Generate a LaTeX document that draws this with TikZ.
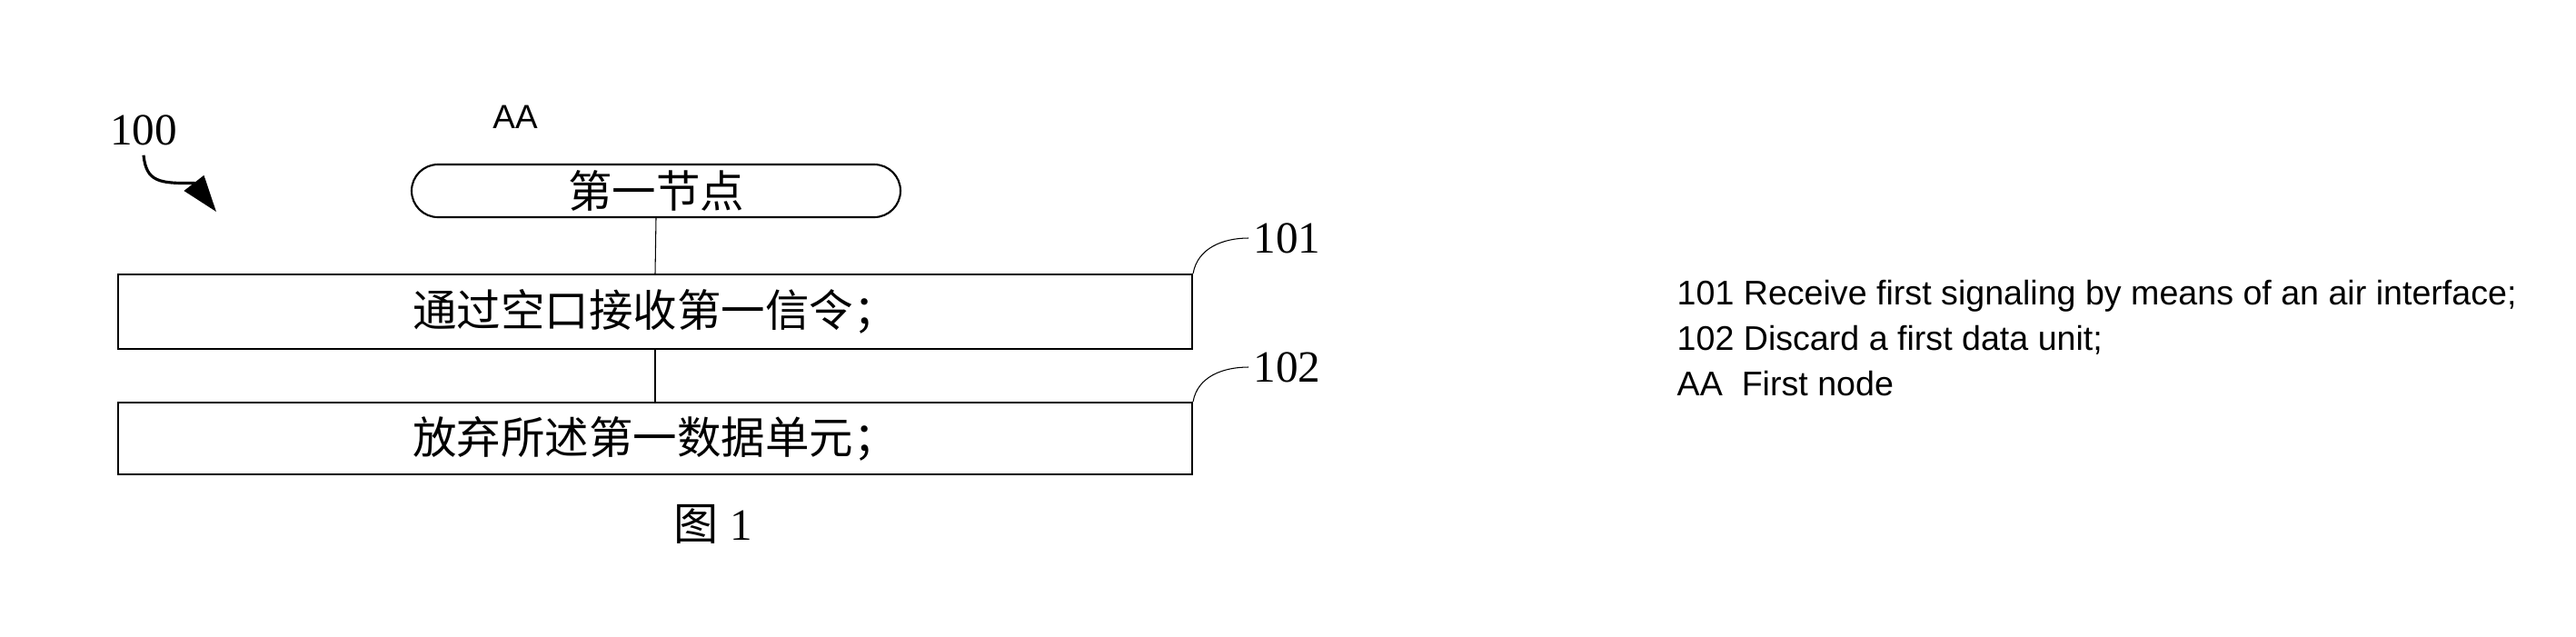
\documentclass[tikz,border=0pt]{standalone}
\usepackage{fontspec}
\setmainfont{Liberation Serif}
\newfontfamily\cjk{Noto Sans CJK SC}
\newfontfamily\arial{Liberation Sans}
\usepackage{tikz}
\usetikzlibrary{arrows.meta, positioning, calc}

\begin{document}
\begin{tikzpicture}[
    termbox/.style={draw, line width=0.6pt, rounded corners=0.29cm, minimum width=5.38cm, minimum height=0.58cm, inner sep=0pt, font=\cjk\fontsize{13.8}{16}\selectfont},
    stepbox/.style={draw, line width=0.6pt, minimum width=11.82cm, inner sep=0pt, font=\cjk\fontsize{13.8}{16}\selectfont},
    reflabel/.style={inner sep=0.05cm, font=\fontsize{14}{16}\selectfont},
    leader/.style={line width=0.3pt},
    link/.style={line width=0.3pt},
    desc/.style={anchor=base west, inner sep=0pt, font=\arial\fontsize{10.7}{12}\selectfont}
]
    % Frame
    \useasboundingbox (0,0) rectangle (28.35,7);

    % Figure number with its arrow
    \node[reflabel, inner xsep=0pt, inner ysep=0.1cm] (fig100) at (1.58,5.565) {100};
    \coordinate (bend100) at (2.135,4.985);
    \coordinate (tip100) at (2.38,4.67);
    \draw[line width=0.9pt, -{Triangle[length=0.4cm, width=0.27cm]}]
        (fig100.south) .. controls (1.61,5.0) and (1.75,4.98) .. (bend100) -- (tip100);

    % First node
    \node[font=\arial\fontsize{10.5}{12}\selectfont, inner sep=0pt] (lblAA) at (5.67,5.71) {AA};
    \node[termbox] (node1) at (7.22,4.90) {第一节点};

    % Steps
    \node[stepbox, minimum height=0.82cm] (recv) at (7.21,3.57) {通过空口接收第一信令；};
    \node[stepbox, minimum height=0.79cm] (drop) at (7.21,2.175) {放弃所述第一数据单元；};
    \draw[link] (node1.south) -- (recv.north);
    \draw[link] (recv.south) -- (drop.north);

    % Step numbers
    \node[reflabel, anchor=west] (n101) at (13.74,4.38) {101};
    \node[reflabel, anchor=west] (n102) at (13.74,2.96) {102};
    \draw[leader] (recv.north east) to[out=80, in=180] (n101.west);
    \draw[leader] (drop.north east) to[out=80, in=180] (n102.west);

    % Caption
    \node[font=\fontsize{14}{16}\selectfont, inner sep=0pt] (cap) at (7.85,1.23) {{\cjk 图}\ 1};

    % Legend
    \foreach \y/\t [count=\i] in {3.65/{101 Receive first signaling by means of an air interface;},
                                  3.15/{102 Discard a first data unit;},
                                  2.65/{AA\ \ First node}} {
        \node[desc] (desc\i) at (18.45,\y) {\t};
    }

\end{tikzpicture}
\end{document}
